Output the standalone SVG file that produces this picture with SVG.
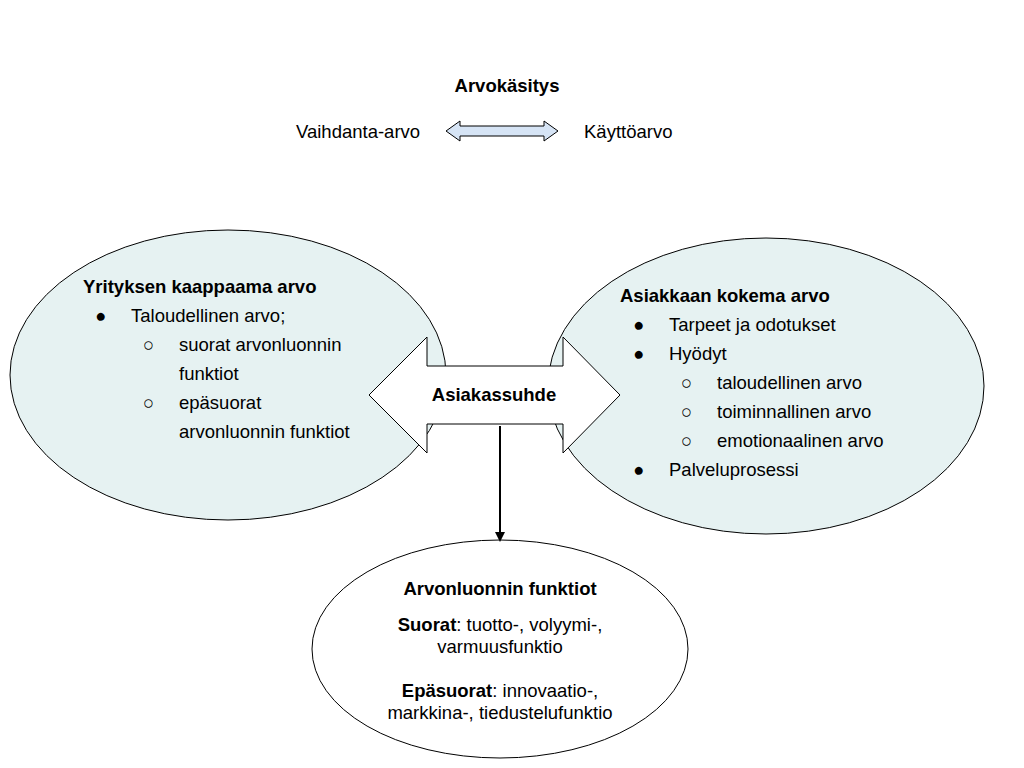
<svg xmlns="http://www.w3.org/2000/svg" width="1024" height="768" viewBox="0 0 1024 768">
<style>
text{font-family:"Liberation Sans",Arial,sans-serif;font-size:18.5px;fill:#000}
.b{font-weight:bold}
.e{fill:#e6f2f2;stroke:#000;stroke-width:1}
.w{fill:#fff;stroke:#000;stroke-width:1}
</style>
<defs><marker id="ah" markerWidth="10" markerHeight="10" refX="8" refY="5" orient="auto" markerUnits="userSpaceOnUse"><path d="M0,0 L10,5 L0,10 Z" fill="#000"/></marker></defs>
<rect width="1024" height="768" fill="#fff"/>
<g id="title">
<text x="507" y="92" text-anchor="middle" class="b">Arvokäsitys</text>
<text x="296" y="138">Vaihdanta-arvo</text>
<text x="584" y="138">Käyttöarvo</text>
<path d="M446,131 L460,121 L460,126 L544,126 L544,121 L558,131 L544,141 L544,136 L460,136 L460,141 Z" fill="#d6e4f5" stroke="#000"/>
</g>
<g id="left">
<ellipse class="e" cx="228" cy="375" rx="218" ry="145"/>
<text x="83" y="293" class="b">Yrityksen kaappaama arvo</text>
<text x="95" y="322">●</text><text x="131" y="322">Taloudellinen arvo;</text>
<text x="143" y="351">○</text><text x="179" y="351">suorat arvonluonnin</text>
<text x="179" y="380">funktiot</text>
<text x="143" y="409">○</text><text x="179" y="409">epäsuorat</text>
<text x="179" y="438">arvonluonnin funktiot</text>
</g>
<g id="right">
<ellipse class="e" cx="766" cy="386" rx="218" ry="148"/>
<text x="620" y="302" class="b">Asiakkaan kokema arvo</text>
<text x="633" y="331">●</text><text x="669" y="331">Tarpeet ja odotukset</text>
<text x="633" y="360">●</text><text x="669" y="360">Hyödyt</text>
<text x="681" y="389">○</text><text x="717" y="389">taloudellinen arvo</text>
<text x="681" y="418">○</text><text x="717" y="418">toiminnallinen arvo</text>
<text x="681" y="447">○</text><text x="717" y="447">emotionaalinen arvo</text>
<text x="633" y="476">●</text><text x="669" y="476">Palveluprosessi</text>
</g>
<g id="bottom">
<ellipse class="w" cx="500" cy="649" rx="188" ry="109"/>
<text x="500" y="595" text-anchor="middle" class="b">Arvonluonnin funktiot</text>
<text x="500" y="631" text-anchor="middle"><tspan class="b">Suorat</tspan>: tuotto-, volyymi-,</text>
<text x="500" y="653" text-anchor="middle">varmuusfunktio</text>
<text x="500" y="697" text-anchor="middle"><tspan class="b">Epäsuorat</tspan>: innovaatio-,</text>
<text x="500" y="719" text-anchor="middle">markkina-, tiedustelufunktio</text>
</g>
<g id="asiakassuhde">
<path d="M369,395 L427,337 L427,366 L563,366 L563,337 L620,395 L563,453 L563,424 L427,424 L427,453 Z" fill="#fff" stroke="#000"/>
<text x="494" y="401" text-anchor="middle" class="b">Asiakassuhde</text>
</g>
<g id="connectors">
<line x1="500" y1="426" x2="500" y2="540" stroke="#000" stroke-width="2" marker-end="url(#ah)"/>
</g>
</svg>
